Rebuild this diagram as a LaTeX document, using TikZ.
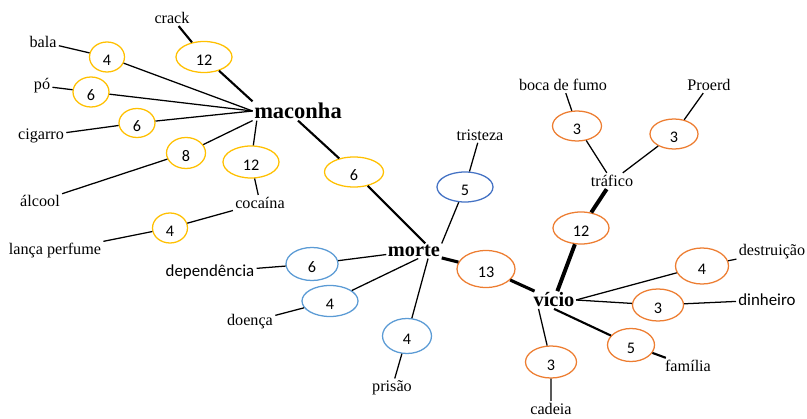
\documentclass[tikz,border=0pt]{standalone}
\usepackage{fontspec}
\setmainfont{Liberation Serif}
\newfontfamily\cntfont{Carlito}
\usetikzlibrary{shapes.geometric}
\definecolor{mgold}{RGB}{255,192,0}
\definecolor{mblue}{RGB}{91,155,213}
\definecolor{mdblue}{RGB}{68,114,196}
\definecolor{morange}{RGB}{237,125,49}
\tikzset{
  hub/.style   = {font=\bfseries\fontsize{14.5}{16}\selectfont, inner sep=1pt},
  word/.style  = {font=\fontsize{11.5}{13}\selectfont, inner sep=1.5pt},
  sword/.style = {font=\cntfont\fontsize{12}{14}\selectfont, inner sep=1.5pt},
  % counts sit a little low in their ellipses
  cnt/.style   = {ellipse, draw, line width=0.9pt, fill=white, inner sep=0pt,
                  text height=12.5pt, text depth=0pt,
                  font=\cntfont\fontsize{11.5}{13}\selectfont},
  sz/.style 2 args = {minimum width=#1*0.7113pt, minimum height=#2*0.7113pt},
  lnk/.style   = {line width=0.9pt},
  lnkm/.style  = {line width=1.5pt},
  lnkt/.style  = {line width=2.2pt},
  lnkh/.style  = {line width=2.8pt}
}

\begin{document}
\begin{tikzpicture}[x=0.025cm, y=-0.025cm,
    cy/.style={cnt, draw=mgold},
    cb/.style={cnt, draw=mblue},
    co/.style={cnt, draw=morange}
  ]
  \useasboundingbox (0,0) rectangle (807,419);

  % central words
  \node[hub, font=\bfseries\fontsize{16}{18}\selectfont] (mac) at (298,111) {maconha};
  \node[hub] (morte) at (414,251) {morte};
  \node[hub] (vicio) at (554,300) {vício};
  \node[word] (traf) at (612,181) {tráfico};
  \node[word] (coc) at (260,203) {cocaína};

  % maconha
  \node[word] (crack) at (172,18) {crack};
  \node[word] (bala) at (43,42) {bala};
  \node[word] (po) at (42,86) {pó};
  \node[word] (cig) at (41,136) {cigarro};
  \node[word] (alc) at (40,201) {álcool};
  \node[word] (lanca) at (55,251) {lança perfume};
  \node[cy, sz={56}{31}] (ecrack) at (204,57) {12};
  \node[cy, sz={35}{30}] (ebala) at (107,57) {4};
  \node[cy, sz={36}{30}] (epo) at (91,92) {6};
  \node[cy, sz={36}{29}] (ecig) at (137,123) {6};
  \node[cy, sz={39}{31}] (ealc) at (186,153) {8};
  \node[cy, sz={56}{32}] (ecoc) at (251,162) {12};
  \node[cy, sz={35}{30}] (elanca) at (170,228) {4};
  \node[cy, sz={59}{30}] (emm) at (354,172) {6};

  \draw[lnkm] (crack) -- (ecrack) -- (mac.north west);
  \draw[lnk] (bala) -- (ebala) -- (mac.west);
  \draw[lnk] (po) -- (epo) -- (mac.west);
  \draw[lnk] (cig) -- (ecig) -- (mac.west);
  \draw[lnk] (alc) -- (ealc) -- (mac.south west);
  \draw[lnk] (coc) -- (ecoc) -- ([xshift=3pt]mac.south west);
  \draw[lnk] (lanca) -- (elanca) -- (coc);
  \draw[lnkm] (mac.south) -- (emm) -- ([xshift=8pt]morte.north);

  % morte
  \node[word] (trist) at (480,135) {tristeza};
  \node[sword] (dep) at (210,272) {dependência};
  \node[word] (doe) at (250,322) {doença};
  \node[word] (pris) at (392,388) {prisão};
  \node[cnt, draw=mdblue, sz={56}{30}] (etrist) at (465,187) {5};
  \node[cb, sz={52}{33}] (edep) at (312,264) {6};
  \node[cb, sz={56}{31}] (edoe) at (330,301) {4};
  \node[cb, sz={49}{35}] (epris) at (407,336) {4};
  \node[co, sz={58}{37}] (emv) at (486,269) {13};

  \draw[lnk] (morte.north east) -- (etrist) -- (trist);
  \draw[lnk] (dep) -- (edep) -- (morte);
  \draw[lnk] (doe) -- (edoe) -- ([xshift=3pt]morte.south);
  \draw[lnk] (pris) -- (epris) -- ([xshift=10pt]morte.south);
  \draw[lnkt] (morte) -- (emv) -- (vicio);

  % vício
  \node[word] (boca) at (563,85) {boca de fumo};
  \node[word] (proerd) at (709,85) {Proerd};
  \node[word] (destr) at (772,252) {destruição};
  \node[sword] (dinh) at (767,300) {dinheiro};
  \node[word] (fam) at (688,366) {família};
  \node[word] (cad) at (551,409) {cadeia};
  \node[co, sz={49}{30}] (eboca) at (577,126) {3};
  \node[co, sz={48}{30}] (eproerd) at (674,134) {3};
  \node[co, sz={56}{32}] (etraf) at (581,228) {12};
  \node[co, sz={53}{36}] (edestr) at (702,266) {4};
  \node[co, sz={51}{32}] (edinh) at (658,305) {3};
  \node[co, sz={47}{33}] (efam) at (631,345) {5};
  \node[co, sz={51}{32}] (ecad) at (551,362) {3};

  \draw[lnk] (boca) -- (eboca) -- (traf);
  \draw[lnk] (proerd) -- (eproerd) -- (traf);
  \draw[lnkh] (vicio) -- (etraf) -- (traf);
  \draw[lnk] (vicio.east) -- (edestr) -- (destr);
  \draw[lnk] (vicio.east) -- (edinh) -- (dinh);
  \draw[lnkm] (vicio.south) -- (efam) -- (fam);
  \draw[lnk] ([xshift=-11pt]vicio.south) -- (ecad) -- (cad);
\end{tikzpicture}
\end{document}
